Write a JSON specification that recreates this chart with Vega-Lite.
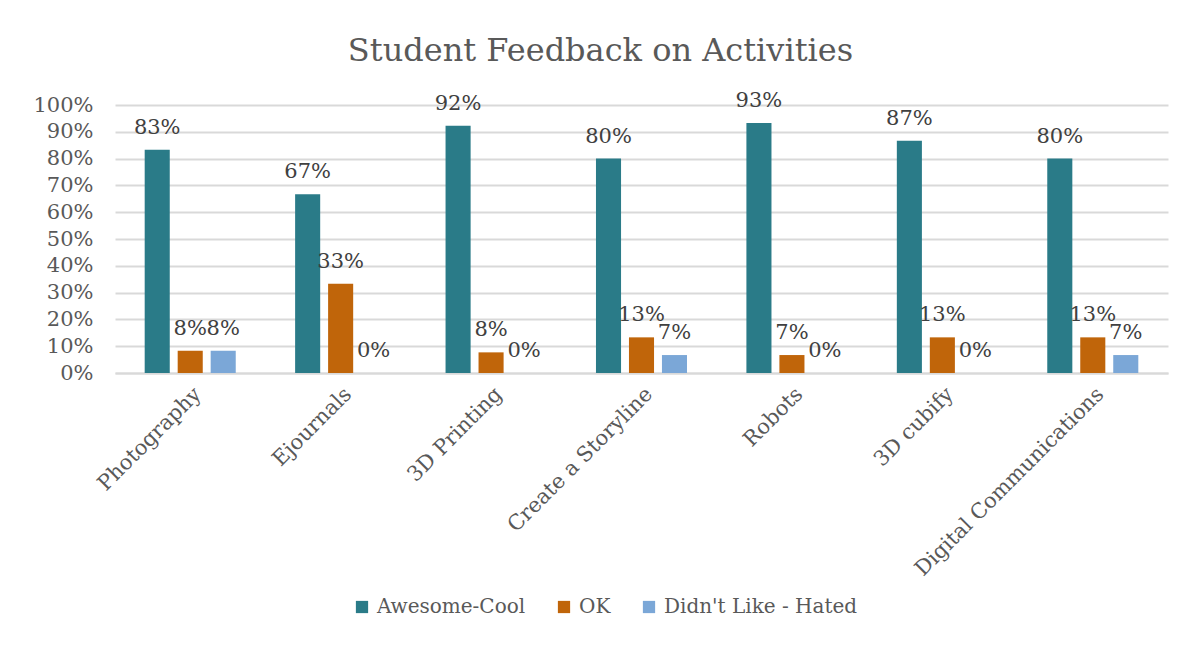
{
  "$schema": "https://vega.github.io/schema/vega-lite/v6.json",
  "width": 1053,
  "height": 268,
  "autosize": "none",
  "padding": {"left": 115, "top": 105, "right": 31, "bottom": 273},
  "background": "white",
  "title": {"text": "Student Feedback on Activities", "fontSize": 32, "font": "DejaVu Serif", "fontWeight": "normal", "color": "#595959", "offset": 22, "anchor": "middle", "frame": "bounds"},
  "config": {"view": {"stroke": null}, "font": "DejaVu Serif"},
  "data": {"values": [
    {"activity": "Photography", "rating": "Awesome-Cool", "value": 0.833},
    {"activity": "Photography", "rating": "OK", "value": 0.083},
    {"activity": "Photography", "rating": "Didn't Like - Hated", "value": 0.083},
    {"activity": "Ejournals", "rating": "Awesome-Cool", "value": 0.667},
    {"activity": "Ejournals", "rating": "OK", "value": 0.333},
    {"activity": "Ejournals", "rating": "Didn't Like - Hated", "value": 0},
    {"activity": "3D Printing", "rating": "Awesome-Cool", "value": 0.923},
    {"activity": "3D Printing", "rating": "OK", "value": 0.077},
    {"activity": "3D Printing", "rating": "Didn't Like - Hated", "value": 0},
    {"activity": "Create a Storyline", "rating": "Awesome-Cool", "value": 0.8},
    {"activity": "Create a Storyline", "rating": "OK", "value": 0.133},
    {"activity": "Create a Storyline", "rating": "Didn't Like - Hated", "value": 0.067},
    {"activity": "Robots", "rating": "Awesome-Cool", "value": 0.933},
    {"activity": "Robots", "rating": "OK", "value": 0.067},
    {"activity": "Robots", "rating": "Didn't Like - Hated", "value": 0},
    {"activity": "3D cubify", "rating": "Awesome-Cool", "value": 0.867},
    {"activity": "3D cubify", "rating": "OK", "value": 0.133},
    {"activity": "3D cubify", "rating": "Didn't Like - Hated", "value": 0},
    {"activity": "Digital Communications", "rating": "Awesome-Cool", "value": 0.8},
    {"activity": "Digital Communications", "rating": "OK", "value": 0.133},
    {"activity": "Digital Communications", "rating": "Didn't Like - Hated", "value": 0.067}
  ]},
  "encoding": {
    "x": {"field": "activity", "type": "nominal", "sort": null, "title": null,
      "scale": {"paddingInner": 0, "paddingOuter": 0},
      "axis": {"labelAngle": -45, "labelFontSize": 21, "labelColor": "#595959", "labelFont": "DejaVu Serif", "labelLimit": 400, "ticks": false, "domainColor": "#d9d9d9", "domainWidth": 2, "labelPadding": 10}},
    "y": {"field": "value", "type": "quantitative", "title": null,
      "scale": {"domain": [0, 1]},
      "axis": {"values": [0, 0.1, 0.2, 0.3, 0.4, 0.5, 0.6, 0.7, 0.8, 0.9, 1], "format": ".0%", "labelFontSize": 21, "labelColor": "#595959", "labelFont": "DejaVu Serif", "ticks": false, "domain": false, "gridColor": "#d9d9d9", "gridWidth": 2, "labelPadding": 22}},
    "xOffset": {"field": "rating", "type": "nominal", "sort": ["Awesome-Cool", "OK", "Didn't Like - Hated"],
      "scale": {"paddingInner": 0.24, "paddingOuter": 0.9}},
    "color": {"field": "rating", "type": "nominal", "title": null,
      "sort": ["Awesome-Cool", "OK", "Didn't Like - Hated"],
      "scale": {"domain": ["Awesome-Cool", "OK", "Didn't Like - Hated"], "range": ["#2A7B88", "#C0650A", "#7BA7D7"]},
      "legend": {"orient": "none", "direction": "horizontal", "legendX": 237, "legendY": 492, "symbolType": "square", "symbolSize": 150, "symbolStrokeWidth": 0, "labelFontSize": 20, "labelColor": "#595959", "labelFont": "DejaVu Serif", "labelLimit": 400, "columnPadding": 28, "labelOffset": 5}}
  },
  "layer": [
    {"mark": {"type": "bar"}},
    {"mark": {"type": "text", "baseline": "bottom", "dy": -12, "fontSize": 21, "color": "#404040", "font": "DejaVu Serif"},
     "encoding": {"text": {"field": "value", "type": "quantitative", "format": ".0%"}, "color": {"value": "#404040"}}}
  ]
}
